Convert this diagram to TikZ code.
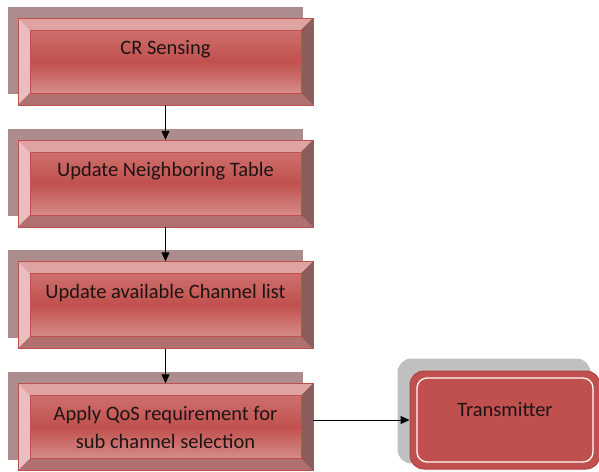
\documentclass[tikz,border=0pt]{standalone}
\usepackage{fontspec}
\setmainfont{Carlito}
\usepackage{tikz}
\usetikzlibrary{arrows.meta,calc,backgrounds}
\definecolor{redmain}{RGB}{192,80,77}
\definecolor{reddark}{RGB}{176,68,66}
\definecolor{facetop}{RGB}{206,112,110}
\definecolor{facebot}{RGB}{214,140,138}
\definecolor{bevtop}{RGB}{223,163,162}
\definecolor{bevleft}{RGB}{234,190,189}
\definecolor{bevright}{RGB}{140,92,92}
\definecolor{bevbot}{RGB}{176,112,111}
\definecolor{shadowrose}{RGB}{173,140,141}
\definecolor{txshade}{RGB}{192,192,192}
\definecolor{ink}{RGB}{30,20,20}
\newcommand{\stepfont}{\fontsize{20.5}{28}\selectfont}
\tikzset{
	stepbox/.style={rectangle, draw=redmain, fill=redmain, thin, inner sep=0pt,
		minimum width=295pt, minimum height=87pt, align=center, font=\stepfont, text=ink,
		path picture={
			\path (path picture bounding box.south west) coordinate (bl)
				(path picture bounding box.north east) coordinate (tr);
			\shade[top color=facetop, bottom color=facebot, middle color=redmain]
				($(bl)+(12pt,12pt)$) rectangle ($(tr)+(-12pt,-12pt)$);
			\fill[bevtop] (bl|-tr) -- (tr) -- ($(tr)+(-12pt,-12pt)$) -- ($(bl|-tr)+(12pt,-12pt)$) -- cycle;
			\fill[bevleft] (bl|-tr) -- ($(bl|-tr)+(12pt,-12pt)$) -- ($(bl)+(12pt,12pt)$) -- (bl) -- cycle;
			\fill[bevright] (tr) -- (tr|-bl) -- ($(tr|-bl)+(-12pt,12pt)$) -- ($(tr)+(-12pt,-12pt)$) -- cycle;
			\fill[bevbot] (bl) -- ($(bl)+(12pt,12pt)$) -- ($(tr|-bl)+(-12pt,12pt)$) -- (tr|-bl) -- cycle;
			\draw[redmain, thin] ($(bl)+(12pt,12pt)$) rectangle ($(tr)+(-12pt,-12pt)$);
		}},
	raised/.style={text depth=28pt},
	txbox/.style={rectangle, rounded corners=14pt, draw=reddark, fill=redmain, line width=1pt,
		minimum width=190pt, minimum height=98pt, font=\stepfont, text=ink, text depth=22pt,
		path picture={
			\draw[white, line width=1.3pt, rounded corners=10pt]
				($(path picture bounding box.south west)+(7pt,7pt)$) rectangle
				($(path picture bounding box.north east)+(-7pt,-7pt)$);
		}},
	flow/.style={-{Triangle[length=9pt,width=8pt]}, line width=1pt, black},
}
\begin{document}
\begin{tikzpicture}[x=1pt, y=-1pt]
	\useasboundingbox (0,0) rectangle (599,471);
	\node[stepbox, raised] at (165.5,61.5) (sense) {CR Sensing};
	\node[stepbox, raised] at (165.5,183.5) (table) {Update Neighboring Table};
	\node[stepbox, raised] at (165.5,305) (chan) {Update available Channel list};
	\node[stepbox] at (165.5,427) (apply) {Apply QoS requirement for\\sub channel selection};
	\node[txbox] at (505,420) (tx) {Transmitter};
	\draw[flow] (sense.south) -- (table.north);
	\draw[flow] (table.south) -- (chan.north);
	\draw[flow] (chan.south) -- (apply.north);
	\draw[flow] (apply.east |- tx.west) -- (tx.west);
	% offset shadows behind the boxes
	\begin{scope}[on background layer]
		\foreach \n in {sense,table,chan,apply}
			\fill[shadowrose] ($(\n.south west)+(-10pt,11pt)$) rectangle ($(\n.north east)+(-10pt,11pt)$);
		\fill[txshade, rounded corners=14pt] ($(tx.south west)+(-12pt,6pt)$) rectangle ($(tx.north east)+(-10pt,12pt)$);
	\end{scope}
\end{tikzpicture}
\end{document}
